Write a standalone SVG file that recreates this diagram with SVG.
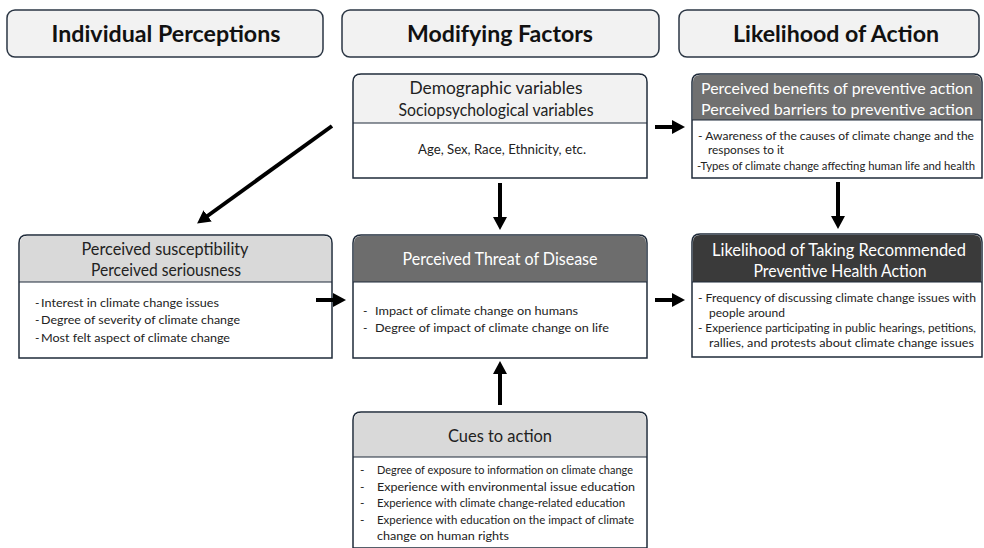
<svg xmlns="http://www.w3.org/2000/svg" width="984" height="548" viewBox="0 0 984 548">
<style>
.hdr{fill:#f2f2f2;stroke:#2b3644;stroke-width:1.5}
.box{fill:#ffffff;stroke:#1f2b3a;stroke-width:1.5}
.sep{stroke:#1f2b3a;stroke-width:1.2}
.h1{font-family:Lato,"Open Sans","Liberation Sans",sans-serif;font-weight:bold;font-size:22px;fill:#111;text-anchor:middle}
.t{font-family:Lato,"Open Sans","Liberation Sans",sans-serif;font-size:17px;fill:#222;text-anchor:middle}
.tw{font-family:Lato,"Open Sans","Liberation Sans",sans-serif;font-size:17px;fill:#ffffff;text-anchor:middle}
.tw2{font-size:15px}
.sm{font-size:13px}
.b{font-family:Lato,"Open Sans","Liberation Sans",sans-serif;font-size:12px;fill:#222}
.b2{font-size:11px}
.conn{stroke:#000;stroke-width:4;fill:none}
</style>
<defs>
<marker id="ah" markerUnits="userSpaceOnUse" markerWidth="14" markerHeight="14" viewBox="0 0 14 14" refX="2" refY="7" orient="auto">
<path d="M0,0 L13,7 L0,14 Z" fill="#000"/>
</marker>
</defs>

<g id="hdr-individual">
<rect class="hdr" x="7" y="10" width="316" height="47" rx="8"/>
<text class="h1" x="166" y="42" textLength="229" lengthAdjust="spacingAndGlyphs">Individual Perceptions</text>
</g>
<g id="hdr-modifying">
<rect class="hdr" x="342" y="10" width="317" height="47" rx="8"/>
<text class="h1" x="500" y="42" textLength="186" lengthAdjust="spacingAndGlyphs">Modifying Factors</text>
</g>
<g id="hdr-likelihood">
<rect class="hdr" x="679" y="10" width="300" height="47" rx="8"/>
<text class="h1" x="836" y="42" textLength="206" lengthAdjust="spacingAndGlyphs">Likelihood of Action</text>
</g>

<g id="demographic">
<path class="box" d="M353,178 L353,82 Q353,74 361,74 L639,74 Q647,74 647,82 L647,178 Z"/>
<path d="M354,123 L354,82 Q354,75 361,75 L639,75 Q646,75 646,82 L646,123 Z" fill="#f2f2f2"/>
<line class="sep" x1="353" y1="123" x2="647" y2="123"/>
<text class="t" x="496" y="94" textLength="173" lengthAdjust="spacingAndGlyphs">Demographic variables</text>
<text class="t" x="496" y="116" textLength="195" lengthAdjust="spacingAndGlyphs">Sociopsychological variables</text>
<text class="t sm" x="502" y="154" textLength="168" lengthAdjust="spacingAndGlyphs">Age, Sex, Race, Ethnicity, etc.</text>
</g>

<g id="benefits-barriers">
<path class="box" d="M692,178 L692,82 Q692,74 700,74 L974,74 Q982,74 982,82 L982,178 Z"/>
<path d="M693,120 L693,82 Q693,75 700,75 L974,75 Q981,75 981,82 L981,120 Z" fill="#707070"/>
<line class="sep" x1="692" y1="120" x2="982" y2="120"/>
<text class="tw tw2" x="837" y="94" textLength="272" lengthAdjust="spacingAndGlyphs">Perceived benefits of preventive action</text>
<text class="tw tw2" x="837" y="115" textLength="272" lengthAdjust="spacingAndGlyphs">Perceived barriers to preventive action</text>
<text class="b" x="698" y="140" textLength="276" lengthAdjust="spacingAndGlyphs">- Awareness of the causes of climate change and the</text>
<text class="b" x="708" y="154" textLength="76" lengthAdjust="spacingAndGlyphs">responses to it</text>
<text class="b b2" x="697" y="170" textLength="278" lengthAdjust="spacingAndGlyphs">-Types of climate change affecting human life and health</text>
</g>

<g id="susceptibility">
<path class="box" d="M19,358 L19,243 Q19,235 27,235 L324,235 Q332,235 332,243 L332,358 Z"/>
<path d="M20,282 L20,243 Q20,236 27,236 L324,236 Q331,236 331,243 L331,282 Z" fill="#d9d9d9"/>
<line class="sep" x1="19" y1="282" x2="332" y2="282"/>
<text class="t" x="165" y="255" textLength="167" lengthAdjust="spacingAndGlyphs">Perceived susceptibility</text>
<text class="t" x="166" y="276" textLength="150" lengthAdjust="spacingAndGlyphs">Perceived seriousness</text>
<text class="b" x="35" y="307">-</text>
<text class="b" x="41" y="307" textLength="178" lengthAdjust="spacingAndGlyphs">Interest in climate change issues</text>
<text class="b" x="35" y="324">-</text>
<text class="b" x="41" y="324" textLength="199" lengthAdjust="spacingAndGlyphs">Degree of severity of climate change</text>
<text class="b" x="35" y="342">-</text>
<text class="b" x="41" y="342" textLength="189" lengthAdjust="spacingAndGlyphs">Most felt aspect of climate change</text>
</g>

<g id="threat">
<path class="box" d="M353,358 L353,243 Q353,235 361,235 L639,235 Q647,235 647,243 L647,358 Z"/>
<path d="M354,282 L354,243 Q354,236 361,236 L639,236 Q646,236 646,243 L646,282 Z" fill="#6d6d6d"/>
<line class="sep" x1="353" y1="282" x2="647" y2="282"/>
<text class="tw" x="500" y="265" textLength="195" lengthAdjust="spacingAndGlyphs">Perceived Threat of Disease</text>
<text class="b" x="363" y="315">-</text>
<text class="b" x="375" y="315" textLength="203" lengthAdjust="spacingAndGlyphs">Impact of climate change on humans</text>
<text class="b" x="363" y="332">-</text>
<text class="b" x="375" y="332" textLength="234" lengthAdjust="spacingAndGlyphs">Degree of impact of climate change on life</text>
</g>

<g id="likelihood">
<path class="box" d="M692,357 L692,242 Q692,234 700,234 L974,234 Q982,234 982,242 L982,357 Z"/>
<path d="M693,282 L693,242 Q693,235 700,235 L974,235 Q981,235 981,242 L981,282 Z" fill="#3a3a3a"/>
<line class="sep" x1="692" y1="282" x2="982" y2="282"/>
<text class="tw" x="839" y="256" textLength="254" lengthAdjust="spacingAndGlyphs">Likelihood of Taking Recommended</text>
<text class="tw" x="840" y="277" textLength="173" lengthAdjust="spacingAndGlyphs">Preventive Health Action</text>
<text class="b" x="698" y="302" textLength="278" lengthAdjust="spacingAndGlyphs">- Frequency of discussing climate change issues with</text>
<text class="b" x="709" y="317" textLength="76" lengthAdjust="spacingAndGlyphs">people around</text>
<text class="b" x="698" y="332" textLength="278" lengthAdjust="spacingAndGlyphs">- Experience participating in public hearings, petitions,</text>
<text class="b" x="709" y="347" textLength="265" lengthAdjust="spacingAndGlyphs">rallies, and protests about climate change issues</text>
</g>

<g id="cues">
<path class="box" d="M353,548 L353,420 Q353,412 361,412 L639,412 Q647,412 647,420 L647,548 Z"/>
<path d="M354,457 L354,420 Q354,413 361,413 L639,413 Q646,413 646,420 L646,457 Z" fill="#d9d9d9"/>
<line class="sep" x1="353" y1="457" x2="647" y2="457"/>
<text class="t" x="500" y="442" textLength="104" lengthAdjust="spacingAndGlyphs">Cues to action</text>
<text class="b" x="360" y="474">-</text>
<text class="b" x="377" y="474" textLength="256" lengthAdjust="spacingAndGlyphs">Degree of exposure to information on climate change</text>
<text class="b" x="360" y="491">-</text>
<text class="b" x="377" y="491" textLength="258" lengthAdjust="spacingAndGlyphs">Experience with environmental issue education</text>
<text class="b" x="360" y="507">-</text>
<text class="b" x="377" y="507" textLength="248" lengthAdjust="spacingAndGlyphs">Experience with climate change-related education</text>
<text class="b" x="360" y="524">-</text>
<text class="b" x="377" y="524" textLength="257" lengthAdjust="spacingAndGlyphs">Experience with education on the impact of climate</text>
<text class="b" x="377" y="540" textLength="132" lengthAdjust="spacingAndGlyphs">change on human rights</text>
</g>

<g id="connectors">
<line class="conn" x1="655" y1="127" x2="674" y2="127" marker-end="url(#ah)"/>
<line class="conn" x1="332" y1="126" x2="206" y2="217" marker-end="url(#ah)"/>
<line class="conn" x1="500" y1="183" x2="500" y2="219" marker-end="url(#ah)"/>
<line class="conn" x1="838" y1="182" x2="838" y2="218" marker-end="url(#ah)"/>
<line class="conn" x1="316" y1="300" x2="335" y2="300" marker-end="url(#ah)"/>
<line class="conn" x1="655" y1="300" x2="674" y2="300" marker-end="url(#ah)"/>
<line class="conn" x1="500" y1="405" x2="500" y2="372" marker-end="url(#ah)"/>
</g>
</svg>
